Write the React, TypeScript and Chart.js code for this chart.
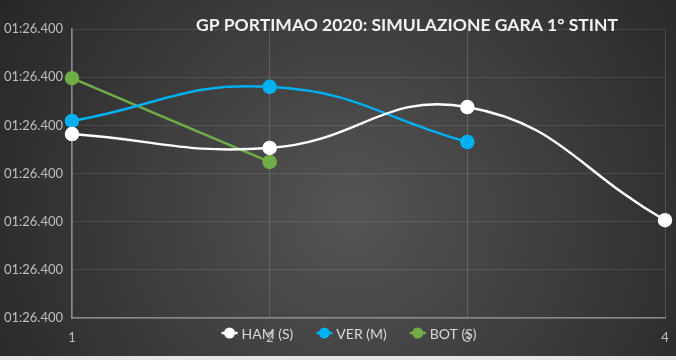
import React, { useEffect, useRef } from 'react';
import { Chart, registerables } from 'chart.js';

Chart.register(...registerables);

// ---- data ----
const lapLabels = ['1', '2', '3', '4'];
// lap times in milliseconds
const hamTimes = [86400.191, 86400.1765, 86400.219, 86400.1015];
const verTimes = [86400.2045, 86400.24, 86400.1827, null];
const botTimes = [86400.249, 86400.162, null, null];
const seriesNames = ['HAM (S)', 'VER (M)', 'BOT (S)'];
const seriesColors = ['#ffffff', '#00b0f0', '#70ad47'];
const yMin = 86400.0;
const yMax = 86400.3;
const yStep = 0.05;
const chartTitle = 'GP PORTIMAO 2020: SIMULAZIONE GARA 1° STINT';

const FONT = 'Lato, "Open Sans", sans-serif';

function pad(n: number, w: number) {
  let s = String(n);
  while (s.length < w) s = '0' + s;
  return s;
}
function fmtLap(ms: number) {
  const total = Math.floor(ms + 1e-6);
  const m = Math.floor(total / 60000);
  const s = Math.floor((total % 60000) / 1000);
  const r = total % 1000;
  return pad(m, 2) + ':' + pad(s, 2) + '.' + pad(r, 3);
}

const decorPlugin = {
  id: 'excelDecor',
  beforeDraw(chart: any) {
    const { ctx, width, height } = chart;
    ctx.save();
    const g = ctx.createRadialGradient(width * 0.52, height * 0.6, 10, width * 0.52, height * 0.6, width * 0.62);
    g.addColorStop(0, '#535353');
    g.addColorStop(1, '#262626');
    ctx.fillStyle = g;
    ctx.fillRect(0, 0, width, height);
    ctx.restore();
  },
  afterDraw(chart: any) {
    const { ctx } = chart;
    ctx.save();
    // title
    ctx.font = 'bold 17.5px ' + FONT;
    ctx.fillStyle = '#f2f2f2';
    ctx.textAlign = 'center';
    ctx.textBaseline = 'middle';
    ctx.fillText(chartTitle, 407, 25);

    // legend
    ctx.font = '14px ' + FONT;
    const marker = 16;
    const gapText = 4;
    const gapItem = 23;
    const items = chart.data.datasets.map((ds: any) => ({
      label: ds.label,
      color: ds.borderColor,
      w: marker + gapText + ctx.measureText(ds.label).width,
    }));
    const total = items.reduce((a: number, it: any) => a + it.w, 0) + gapItem * (items.length - 1);
    let x = 349 - total / 2;
    const y = 333;
    ctx.textAlign = 'left';
    ctx.textBaseline = 'middle';
    for (const it of items) {
      ctx.strokeStyle = it.color;
      ctx.lineWidth = 2.5;
      ctx.beginPath();
      ctx.moveTo(x, y);
      ctx.lineTo(x + marker, y);
      ctx.stroke();
      ctx.fillStyle = it.color;
      ctx.beginPath();
      ctx.arc(x + marker / 2, y, 5.5, 0, Math.PI * 2);
      ctx.fill();
      ctx.fillStyle = '#d9d9d9';
      ctx.fillText(it.label, x + marker + gapText, y + 1);
      x += it.w + gapItem;
    }
    ctx.restore();
  },
};

export default function App() {
  const ref = useRef<HTMLCanvasElement | null>(null);
  useEffect(() => {
    if (!ref.current) return;
    const series = [hamTimes, verTimes, botTimes];
    const chart = new Chart(ref.current, {
      type: 'line',
      data: {
        labels: lapLabels,
        datasets: series.map((d, i) => ({
          label: seriesNames[i],
          data: d as any,
          borderColor: seriesColors[i],
          backgroundColor: seriesColors[i],
          pointBackgroundColor: seriesColors[i],
          pointBorderColor: seriesColors[i],
          borderWidth: 2.5,
          pointRadius: 6,
          pointHoverRadius: 6,
          tension: 0.45,
          fill: false,
          spanGaps: false,
        })),
      },
      options: {
        animation: false,
        responsive: false,
        layout: { padding: { top: 29, right: 11, left: 0, bottom: 0 } },
        plugins: {
          legend: { display: false },
          title: { display: false },
          tooltip: { enabled: false },
        },
        scales: {
          x: {
            type: 'category',
            offset: false,
            grid: { color: 'rgba(255,255,255,0.16)', lineWidth: 1, drawTicks: false },
            border: { color: '#8a8a8a', width: 1.5 },
            ticks: { color: '#bfbfbf', font: { family: FONT, size: 13 }, padding: 12, maxRotation: 0 },
            afterFit(scale: any) {
              scale.height = 38;
              scale.paddingLeft = 0;
              scale.paddingRight = 0;
            },
          },
          y: {
            type: 'linear',
            min: yMin,
            max: yMax,
            grid: { color: 'rgba(255,255,255,0.1)', lineWidth: 1, drawTicks: false },
            border: { color: '#8a8a8a', width: 1.5 },
            ticks: {
              stepSize: yStep,
              color: '#bfbfbf',
              font: { family: FONT, size: 13 },
              padding: 9,
              callback: (v: any) => fmtLap(Number(v)),
            },
            afterFit(scale: any) {
              scale.width = 72;
            },
          },
        },
      } as any,
      plugins: [decorPlugin],
    });
    return () => chart.destroy();
  }, []);
  return (
    <div style={{ position: 'absolute', left: 0, top: 0, width: 676, height: 360, background: '#e6e6e6' }}>
      <canvas ref={ref} width={676} height={356} style={{ display: 'block' }} />
    </div>
  );
}
